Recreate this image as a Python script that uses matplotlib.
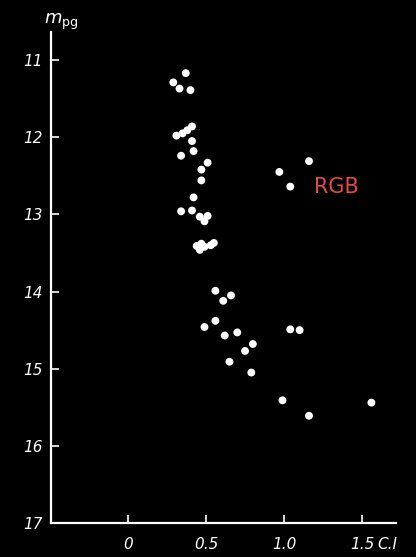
import matplotlib
matplotlib.use("Agg")
import matplotlib.pyplot as plt

# colour index (C.I) and photographic magnitude (m_pg)
ci = [0.37, 0.29, 0.33, 0.40,
      0.41, 0.38, 0.35, 0.31, 0.41, 0.42, 0.34,
      0.51, 0.47, 0.47, 0.42, 0.34, 0.41,
      0.46, 0.51, 0.49,
      0.44, 0.47, 0.46, 0.49, 0.53, 0.55,
      0.56, 0.66, 0.61, 0.56, 0.49, 0.62, 0.70,
      0.80, 0.75, 0.65, 0.79,
      1.16, 0.97, 1.04, 1.04, 1.10, 0.99, 1.16, 1.56]
mpg = [11.17, 11.29, 11.37, 11.39,
       11.86, 11.91, 11.95, 11.98, 12.05, 12.18, 12.24,
       12.33, 12.42, 12.56, 12.78, 12.96, 12.95,
       13.03, 13.02, 13.09,
       13.41, 13.38, 13.46, 13.42, 13.40, 13.37,
       13.99, 14.05, 14.12, 14.38, 14.46, 14.57, 14.53,
       14.68, 14.77, 14.91, 15.05,
       12.31, 12.45, 12.64, 14.49, 14.50, 15.41, 15.61, 15.44]

xticks = [0, 0.5, 1.0, 1.5]
xticklabels = ["0", "0.5", "1.0", "1.5"]
yticks = [11, 12, 13, 14, 15, 16, 17]

fig = plt.figure(figsize=(4.16, 5.57), dpi=100, facecolor="black")
ax = fig.add_axes([0.1226, 0.061, 0.8294, 0.8815], facecolor="black")

ax.scatter(ci, mpg, s=32, color="white", edgecolors="none", zorder=3)

ax.set_xlim(-0.494, 1.718)
ax.set_ylim(17, 10.637)

for side in ["top", "right"]:
    ax.spines[side].set_visible(False)
for side in ["left", "bottom"]:
    ax.spines[side].set_color("white")
    ax.spines[side].set_linewidth(1.6)

ax.set_xticks(xticks)
ax.set_xticklabels(xticklabels)
ax.set_yticks(yticks)
ax.set_yticklabels([str(v) for v in yticks])
ax.tick_params(colors="white", direction="in", length=6, width=1.2,
               labelsize=11)
ax.tick_params(axis="x", pad=10)
ax.tick_params(axis="y", pad=6)
for lab in ax.get_xticklabels() + ax.get_yticklabels():
    lab.set_fontstyle("italic")
    lab.set_color("white")

# "C.I" sits on the same row as the x tick labels (pad 10pt)
ax_h_px = 0.8815 * 557
ax.text(1.60, -(10 * 100 / 72) / ax_h_px, "C.I", color="white",
        fontsize=11, style="italic", ha="left", va="top", clip_on=False,
        transform=ax.get_xaxis_transform())
fig.text(44 / 416, 1 - 22 / 557, r"$m_{\rm pg}$", color="white",
         fontsize=13, ha="left", va="center")

ax.text(1.19, 12.64, "RGB", color="#e8474a", fontsize=15,
        ha="left", va="center")

fig.savefig("out.png", dpi=100, facecolor="black")
